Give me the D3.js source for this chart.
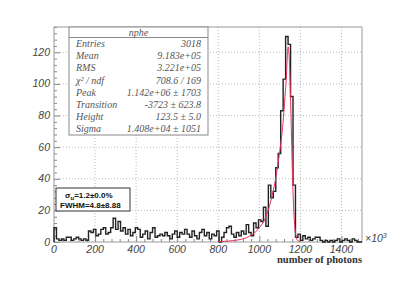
<!DOCTYPE html>
<html>
<head>
<meta charset="utf-8">
<script src="https://cdn.jsdelivr.net/npm/d3@7"></script>
<style>
  body { margin: 0; background: #fff; }
  svg { display: block; }
</style>
</head>
<body>
<div id="chart"></div>
<script>
// histogram: 125 bins of 12 (x10^3 photons) from 0 to 1500
var binWidth = 12;
var counts = [
  9, 2, 1, 2, 1, 3, 3, 1, 2, 3, 2, 1, 2, 1, 7, 6, 8, 4, 5, 8,
  9, 5, 6, 9, 15, 8, 13, 7, 9, 5, 8, 4, 6, 9, 8, 3, 5, 7, 2, 6,
  9, 3, 4, 5, 4, 6, 4, 2, 5, 7, 3, 6, 5, 8, 5, 3, 7, 4, 2, 6,
  8, 4, 6, 2, 5, 4, 7, 0, 3, 6, 9, 10, 5, 3, 6, 4, 7, 5, 11, 6,
  4, 12, 9, 14, 13, 22, 10, 36, 28, 32, 47, 56, 83, 103, 130, 125, 92, 36, 3, 5,
  1, 4, 2, 3, 1, 2, 3, 3, 1, 0, 1, 0, 1, 0, 1, 2, 0, 1, 2, 1,
  0, 2, 1, 0, 0
];

// fit curve: [x (x10^3), value]
var fitX = [800, 850, 900, 950, 1000, 1025, 1050, 1075, 1100, 1115, 1125, 1132, 1136, 1140, 1144, 1148, 1153, 1158, 1163, 1168, 1173, 1178, 1188, 1198];
var fitY = [0.2, 0.6, 1.4, 3.5, 9, 14, 23, 37, 58, 75, 92, 105, 117, 123.5, 120, 108, 86, 60, 36, 19, 9, 4, 0.8, 0.2];

var statLabels = ["Entries", "Mean", "RMS", "\u03c7\u00b2 / ndf", "Peak", "Transition", "Height", "Sigma"];
var statValues = ["3018", "9.183e+05", "3.221e+05", "708.6 / 169", "1.142e+06 \u00b1 1703", "-3723 \u00b1 623.8", "123.5 \u00b1 5.0", "1.408e+04 \u00b1 1051"];

var xTicks = [0, 200, 400, 600, 800, 1000, 1200, 1400];
var yTicks = [0, 20, 40, 60, 80, 100, 120];

var W = 415, H = 294;
var pLeft = 54, pRight = 362, pTop = 27, pBottom = 242;

var svg = d3.select("#chart").append("svg")
    .attr("width", W)
    .attr("height", H);

svg.append("rect").attr("width", W).attr("height", H).attr("fill", "#fff");

var x = d3.scaleLinear().domain([0, 1500]).range([pLeft, pRight]);
var y = d3.scaleLinear().domain([0, 136]).range([pBottom, pTop]);

// grid
var grid = svg.append("g").attr("stroke", "#aaa").attr("stroke-dasharray", "1,2").attr("stroke-width", 0.8);
grid.selectAll(".gx").data(xTicks.slice(1)).enter().append("line")
    .attr("x1", d => x(d)).attr("x2", d => x(d))
    .attr("y1", pTop).attr("y2", pBottom);
grid.selectAll(".gy").data(yTicks.slice(1)).enter().append("line")
    .attr("x1", pLeft).attr("x2", pRight)
    .attr("y1", d => y(d)).attr("y2", d => y(d));

// axes (ticks drawn inward like ROOT)
var yAxis = d3.axisRight(y).tickValues(d3.range(0, 137, 4)).tickSize(3).tickFormat("");
svg.append("g").attr("transform", "translate(" + pLeft + ",0)").call(yAxis)
    .call(g => g.select(".domain").remove())
    .call(g => g.selectAll(".tick line").attr("stroke", "#888")
        .attr("x2", d => d % 20 == 0 ? 6 : 3));

var xAxis = d3.axisTop(x).tickValues(d3.range(0, 1501, 40)).tickSize(3).tickFormat("");
svg.append("g").attr("transform", "translate(0," + pBottom + ")").call(xAxis)
    .call(g => g.select(".domain").remove())
    .call(g => g.selectAll(".tick line").attr("stroke", "#888")
        .attr("y2", d => d % 200 == 0 ? -6 : -3));

// frame
svg.append("rect")
    .attr("x", pLeft).attr("y", pTop)
    .attr("width", pRight - pLeft).attr("height", pBottom - pTop)
    .attr("fill", "none").attr("stroke", "#999").attr("stroke-width", 1);

// tick labels
svg.selectAll(".ylab").data(yTicks).enter().append("text")
    .attr("x", pLeft - 4).attr("y", d => y(d) + 3.5)
    .attr("text-anchor", "end")
    .attr("font-family", "Liberation Sans, Arial, sans-serif")
    .attr("font-style", "italic")
    .attr("font-size", 10.5)
    .attr("fill", "#444")
    .text(d => d);

svg.selectAll(".xlab").data(xTicks).enter().append("text")
    .attr("x", d => x(d)).attr("y", pBottom + 11)
    .attr("text-anchor", "middle")
    .attr("font-family", "Liberation Sans, Arial, sans-serif")
    .attr("font-style", "italic")
    .attr("font-size", 10.5)
    .attr("fill", "#444")
    .text(d => d);

var mult = svg.append("text")
    .attr("x", pRight + 3).attr("y", pBottom)
    .attr("font-family", "Liberation Sans, Arial, sans-serif")
    .attr("font-style", "italic")
    .attr("font-size", 10.5)
    .attr("fill", "#444");
mult.append("tspan").text("\u00d710");
mult.append("tspan").attr("dy", -4).attr("font-size", 7).text("3");

svg.append("text")
    .attr("x", pRight).attr("y", pBottom + 21)
    .attr("text-anchor", "end")
    .attr("font-family", "Liberation Serif, Times New Roman, serif")
    .attr("font-weight", "bold")
    .attr("font-size", 10.5)
    .attr("fill", "#333")
    .text("number of photons");

// histogram as step line
var steps = [[0, 0]];
counts.forEach(function(c, i) {
    steps.push([i * binWidth, c]);
    steps.push([(i + 1) * binWidth, c]);
});
steps.push([counts.length * binWidth, 0]);

var stepLine = d3.line()
    .x(d => x(d[0]))
    .y(d => y(d[1]));

svg.append("path")
    .attr("d", stepLine(steps))
    .attr("fill", "none")
    .attr("stroke", "#222")
    .attr("stroke-width", 1.4);

// fit
var fitPts = fitX.map((v, i) => [v, fitY[i]]);
svg.append("path")
    .attr("d", d3.line().x(d => x(d[0])).y(d => y(d[1])).curve(d3.curveMonotoneX)(fitPts))
    .attr("fill", "none")
    .attr("stroke", "#e8305a")
    .attr("stroke-width", 1);

// stats box
var bx = 69, by = 27, bw = 139, bh = 108;
var stats = svg.append("g");
stats.append("rect")
    .attr("x", bx).attr("y", by).attr("width", bw).attr("height", bh)
    .attr("fill", "#fff").attr("stroke", "#888").attr("stroke-width", 1);
stats.append("line")
    .attr("x1", bx).attr("x2", bx + bw)
    .attr("y1", by + 10.5).attr("y2", by + 10.5)
    .attr("stroke", "#888");
stats.append("text")
    .attr("x", bx + bw / 2).attr("y", by + 8.5)
    .attr("text-anchor", "middle")
    .attr("font-family", "Liberation Serif, Times New Roman, serif")
    .attr("font-style", "italic")
    .attr("font-size", 10)
    .attr("fill", "#555")
    .text("nphe");
stats.selectAll(".sl").data(statLabels).enter().append("text")
    .attr("x", bx + 7).attr("y", (d, i) => 47 + i * 12.2)
    .attr("font-family", "Liberation Serif, Times New Roman, serif")
    .attr("font-style", "italic")
    .attr("font-size", 10)
    .attr("fill", "#555")
    .text(d => d);
stats.selectAll(".sv").data(statValues).enter().append("text")
    .attr("x", bx + bw - 7).attr("y", (d, i) => 47 + i * 12.2)
    .attr("text-anchor", "end")
    .attr("font-family", "Liberation Serif, Times New Roman, serif")
    .attr("font-style", "italic")
    .attr("font-size", 10)
    .attr("fill", "#555")
    .text(d => d);

// resolution box
var rb = svg.append("g");
rb.append("rect")
    .attr("x", 56).attr("y", 188).attr("width", 74).attr("height", 23)
    .attr("fill", "#fff").attr("stroke", "#333").attr("stroke-width", 1);
var t1 = rb.append("text")
    .attr("x", 65).attr("y", 197.5)
    .attr("font-family", "Liberation Sans, Arial, sans-serif")
    .attr("font-weight", "bold")
    .attr("font-size", 8)
    .attr("fill", "#111");
t1.append("tspan").text("\u03c3");
t1.append("tspan").attr("dy", 2).attr("font-size", 6).text("u");
t1.append("tspan").attr("dy", -2).text("=1.2\u00b10.0%");
rb.append("text")
    .attr("x", 60).attr("y", 207.5)
    .attr("font-family", "Liberation Sans, Arial, sans-serif")
    .attr("font-weight", "bold")
    .attr("font-size", 8)
    .attr("fill", "#111")
    .text("FWHM=4.8\u00b18.88");
</script>
</body>
</html>
